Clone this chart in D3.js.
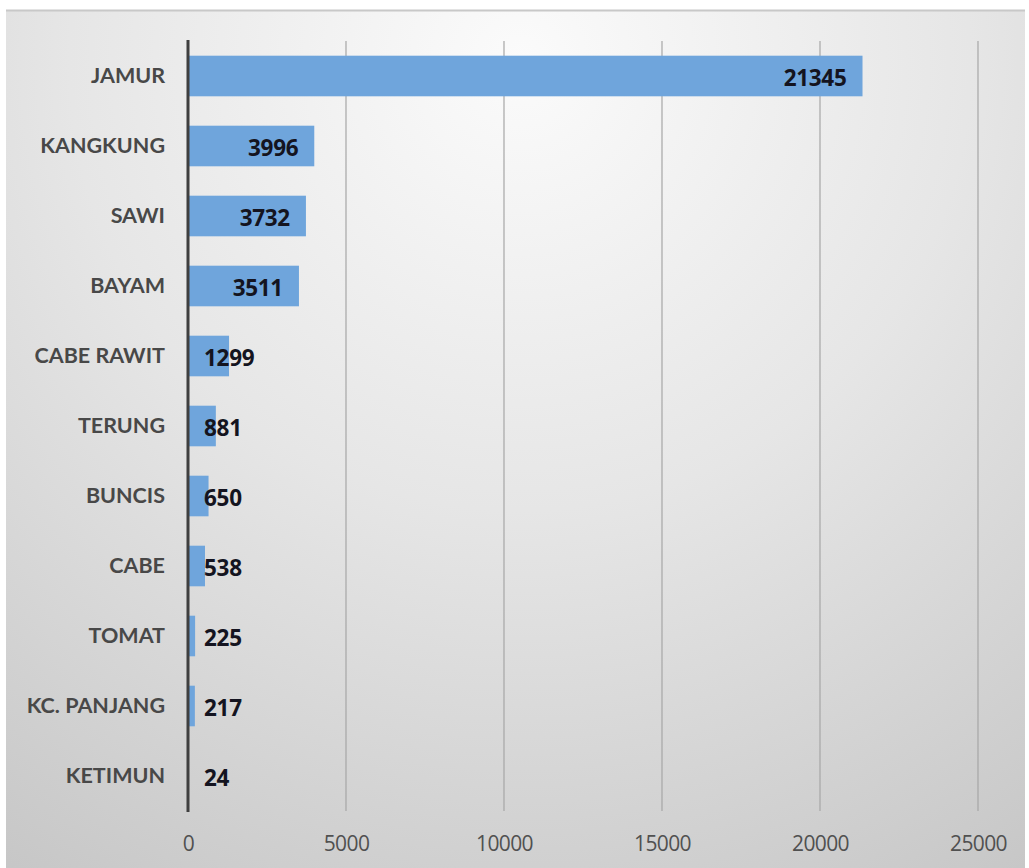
<!DOCTYPE html>
<html><head><meta charset="utf-8">
<script src="https://cdn.jsdelivr.net/npm/d3@7/dist/d3.min.js"></script>
<style>html,body{margin:0;padding:0;background:#fff;overflow:hidden}</style>
</head><body><svg id="c" width="1029" height="868"></svg>
<script>
const categories = ["JAMUR","KANGKUNG","SAWI","BAYAM","CABE RAWIT","TERUNG","BUNCIS","CABE","TOMAT","KC. PANJANG","KETIMUN"];
const values = [21345,3996,3732,3511,1299,881,650,538,225,217,24];
const ticks = [0,5000,10000,15000,20000,25000];

const svg = d3.select("#c");
const defs = svg.append("defs");
const rg = defs.append("radialGradient").attr("id","bg")
  .attr("gradientUnits","userSpaceOnUse").attr("cx",520).attr("cy",60).attr("r",1000);
rg.append("stop").attr("offset","0").attr("stop-color","#fbfbfb");
rg.append("stop").attr("offset","0.45").attr("stop-color","#e6e6e6");
rg.append("stop").attr("offset","1").attr("stop-color","#c4c4c4");

svg.append("rect").attr("x",6).attr("y",10).attr("width",1019).attr("height",870).attr("fill","url(#bg)");
svg.append("line").attr("x1",6).attr("x2",1025).attr("y1",10.5).attr("y2",10.5).attr("stroke","#c8c8c8").attr("stroke-width",2);

const x = d3.scaleLinear().domain([0,25000]).range([188,978]);
const y = d3.scaleBand().domain(categories).range([41,811]).paddingInner(0.42).paddingOuter(0.21);

// gridlines
svg.append("g").selectAll("line").data(ticks.slice(1)).join("line")
  .attr("x1",d=>x(d)).attr("x2",d=>x(d)).attr("y1",41).attr("y2",811)
  .attr("stroke","#a6a6a6").attr("stroke-width",1.2);

// bars
svg.append("g").selectAll("rect").data(categories).join("rect")
  .attr("x",x(0)).attr("y",d=>y(d)).attr("height",y.bandwidth())
  .attr("width",(d,i)=>x(values[i])-x(0)).attr("fill","#6fa5dc");

// axis line
svg.append("line").attr("x1",x(0)).attr("x2",x(0)).attr("y1",40).attr("y2",812)
  .attr("stroke","#3f3f3f").attr("stroke-width",3);

const font = "'Open Sans', sans-serif";
// x axis
const xa = d3.axisBottom(x).tickValues(ticks).tickSize(0).tickPadding(0).tickFormat(d3.format("d"));
const gx = svg.append("g").attr("transform","translate(0,836)").call(xa);
gx.select(".domain").remove();
gx.selectAll("text").attr("font-family",font).attr("font-size",21).attr("fill","#505050").attr("dy","0.71em")
  .attr("letter-spacing","-0.6");

// y axis
const ya = d3.axisLeft(y).tickSize(0).tickPadding(0);
const gy = svg.append("g").attr("transform","translate(165,0)").call(ya);
gy.select(".domain").remove();
gy.selectAll("text").attr("font-family","Lato, sans-serif").attr("font-size",21.5).attr("font-weight",700).attr("fill","#484848");

// value labels
svg.append("g").selectAll("text").data(categories).join("text")
  .attr("y",d=>y(d)+y.bandwidth()/2+2).attr("dy","0.36em")
  .attr("font-family",font).attr("font-size",22.5).attr("font-weight",700).attr("fill","#141420")
  .attr("letter-spacing","-0.3")
  .each(function(d,i){
    const t = d3.select(this).text(values[i]);
    const w = this.getComputedTextLength();
    const end = x(values[i]) - 16;
    const left = Math.max(end - w, 204);
    t.attr("x", left);
  });
</script></body></html>
